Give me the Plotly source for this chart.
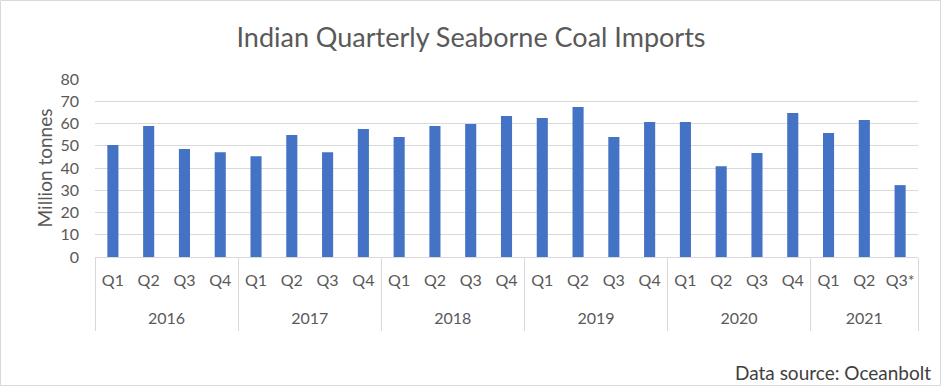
import plotly.graph_objects as go

years = ["2016"] * 4 + ["2017"] * 4 + ["2018"] * 4 + ["2019"] * 4 + ["2020"] * 4 + ["2021"] * 3
quarters = ["Q1", "Q2", "Q3", "Q4"] * 5 + ["Q1", "Q2", "Q3*"]
imports_mt = [50.3, 58.9, 48.5, 47.1,
              45.3, 54.8, 47.1, 57.5,
              53.9, 58.9, 59.8, 63.4,
              62.5, 67.4, 53.9, 60.7,
              60.7, 40.8, 46.7, 64.7,
              55.7, 61.6, 32.3]
year_labels = ["2016", "2017", "2018", "2019", "2020", "2021"]

FONT = "Lato"
GREY = "#595959"
LINE = "#d9d9d9"

cats = [f"{y} {q}" for y, q in zip(years, quarters)]
n = len(cats)

# group positions (centres and boundaries) derived from the year list
centres, bounds = [], [-0.5]
for yl in year_labels:
    idx = [i for i, y in enumerate(years) if y == yl]
    centres.append((idx[0] + idx[-1]) / 2)
    bounds.append(idx[-1] + 0.5)

fig = go.Figure()
fig.add_trace(go.Bar(
    x=cats, y=imports_mt,
    marker=dict(color="#4472C4", line=dict(width=0)),
    xaxis="x", yaxis="y",
))
# invisible helpers to activate the year and divider axes
fig.add_trace(go.Scatter(x=[centres[0]], y=[0], xaxis="x2", yaxis="y",
                         mode="markers", marker=dict(opacity=0), hoverinfo="skip"))
fig.add_trace(go.Scatter(x=[bounds[0]], y=[0], xaxis="x3", yaxis="y",
                         mode="markers", marker=dict(opacity=0), hoverinfo="skip"))

W, H = 942, 387
ml, mr, mt, mb = 95, 24, 79, 130
pw, ph = W - ml - mr, H - mt - mb

fig.update_layout(
    width=W, height=H,
    margin=dict(l=ml, r=mr, t=mt, b=mb),
    paper_bgcolor="white", plot_bgcolor="white",
    bargap=0.69,
    showlegend=False,
    title=dict(text="Indian Quarterly Seaborne Coal Imports",
               x=0.5, xref="container", xanchor="center",
               y=1 - 38 / H, yref="container", yanchor="middle",
               font=dict(family=FONT, size=27, color=GREY)),
    font=dict(family=FONT, size=16, color=GREY),
    xaxis=dict(
        type="category", automargin=False,
        categoryorder="array", categoryarray=cats,
        range=[-0.5, n - 0.5],
        tickvals=cats, ticktext=quarters, tickangle=0,
        showgrid=False,
        showline=True, linecolor=LINE, linewidth=1,
        ticks="", ticklabelstandoff=9,
        tickfont=dict(family=FONT, size=16, color=GREY),
    ),
    xaxis2=dict(
        overlaying="x", anchor="y", side="bottom", automargin=False,
        range=[-0.5, n - 0.5],
        tickmode="array", tickvals=centres, ticktext=year_labels, tickangle=0,
        showgrid=False, showline=False, zeroline=False,
        ticks="", ticklabelstandoff=50,
        tickfont=dict(family=FONT, size=16, color=GREY),
    ),
    xaxis3=dict(
        overlaying="x", anchor="y", side="bottom", automargin=False,
        range=[-0.5, n - 0.5],
        tickmode="array", tickvals=bounds, showticklabels=False,
        showgrid=False, showline=False, zeroline=False,
        ticks="outside", ticklen=73, tickwidth=1, tickcolor=LINE,
    ),
    yaxis=dict(
        automargin=False,
        range=[0, 80], dtick=10,
        showgrid=True, gridcolor=LINE, gridwidth=1,
        zeroline=False, showline=False, ticks="",
        ticklabelstandoff=15,
        tickfont=dict(family=FONT, size=16, color=GREY),
        title=dict(text="Million tonnes", font=dict(family=FONT, size=19, color=GREY), standoff=2),
    ),
    shapes=[dict(type="rect", xref="paper", yref="paper",
                 x0=(0.5 - ml) / pw, x1=(W - 1.5 - ml) / pw,
                 y0=-(H - 1.5 - mt - ph) / ph, y1=1 + (mt - 0.5) / ph,
                 line=dict(color=LINE, width=1), fillcolor="rgba(0,0,0,0)",
                 layer="below")],
    annotations=[dict(text="Data source: Oceanbolt", xref="paper", yref="paper",
                      x=(933 - ml) / pw, y=-(372 - mt - ph) / ph,
                      xanchor="right", yanchor="middle", showarrow=False,
                      font=dict(family=FONT, size=19, color="#404040"))],
)

fig.write_html("out.html", config={"displayModeBar": False},
               post_script="document.body.style.margin='0';document.body.style.overflow='hidden';")
